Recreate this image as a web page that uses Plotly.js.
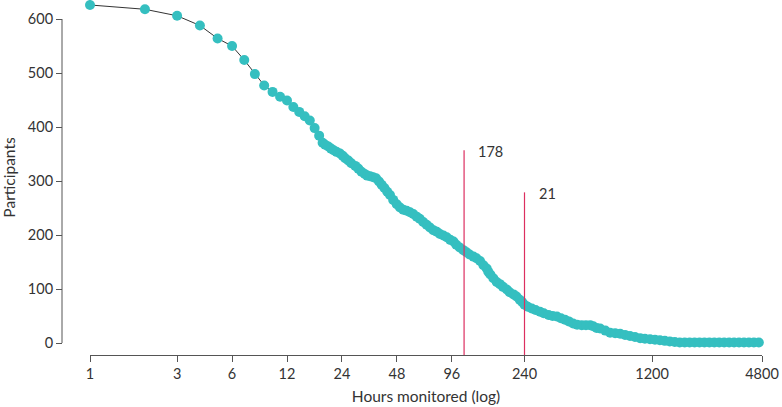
<!DOCTYPE html>
<html>
<head>
<meta charset="utf-8">
<script src="https://cdn.plot.ly/plotly-3.0.1.min.js"></script>
<style>
  html, body { margin: 0; padding: 0; background: #ffffff; }
  #chart { width: 782px; height: 407px; }
</style>
</head>
<body>
<div id="chart"></div>
<script>
// ---- Data ----
const hoursMonitored = [
  1, 2, 3, 4, 5, 6, 7, 8, 9, 10, 11, 12, 13, 14, 15, 16, 17, 18,
  18.8, 19.4, 20.2, 20.9, 21.6, 22.4, 23.4, 24.2, 25, 26, 27, 28.4, 29.5, 30.7,
  32, 33, 34.2, 35.6, 36.9, 38.3, 39.6, 41, 42.5, 44, 45.8, 47.9, 49.9, 52,
  54.3, 56.6, 59, 61.6, 64, 66.9, 69.8, 72.8, 76, 79.4, 82.6, 86.3, 90, 94,
  98, 101.5, 106, 111, 115.5, 120, 126, 131, 137, 143, 149, 152, 156, 162,
  169, 176, 183, 192, 199, 209, 217, 226, 233, 240, 250, 263, 276, 292,
  306, 325, 342, 361, 380, 400, 420, 443, 466, 494, 521, 550, 571, 596,
  623, 665, 707, 753, 802, 853, 908, 967, 1032, 1096, 1169, 1245, 1324, 1409,
  1500, 1597, 1700, 1810, 1926, 2050, 2182, 2322, 2472, 2631, 2800, 2980,
  3172, 3376, 3593, 3825, 4071, 4333, 4612, 4909, 5300
];
const participants = [
  626, 618, 606, 588, 564, 550, 524, 498, 477, 465, 456, 449, 437, 428, 420, 412, 398, 384,
  371, 367, 364, 360, 357, 354, 351, 347, 342, 338, 333, 328, 323, 317,
  313, 310, 309, 307, 305, 299, 293, 287, 280, 274, 265, 257, 251, 247,
  245, 242, 239, 234, 230, 224, 219, 214, 209, 206, 202, 199, 196, 191,
  188, 182, 177, 172, 168, 164, 160, 157, 152, 144, 138, 132, 127, 120,
  113, 109, 104, 99, 94, 90, 86, 80, 76, 71, 67, 64, 61, 58,
  55, 52, 50, 49, 46, 43, 40, 36, 34, 33, 33, 33, 31, 28,
  27, 23, 19, 18, 17, 15, 13, 11, 9, 8, 7, 6, 5, 4,
  3, 2, 1, 1, 1, 1, 1, 1, 1, 1, 1, 1,
  1, 1, 1, 1, 1, 1, 1, 1, 1
];

// Vertical marker lines (hours, height) and their labels
const markerHours = [112, 240];
const markerHeights = [357, 279];
const markerLabels = ['178', '21'];

// Axis ticks
const xTickVals = [1, 3, 6, 12, 24, 48, 96, 240, 1200, 4800];
const xTickText = ['1', '3', '6', '12', '24', '48', '96', '240', '1200', '4800'];
const yTickVals = [0, 100, 200, 300, 400, 500, 600];

// ---- Styling ----
const FONT = 'Lato, "Noto Sans", "DejaVu Sans", sans-serif';
const TEAL = '#35bfc0';
const RED = '#dc2f60';
const AXIS = '#555555';
const TEXT = '#333333';
const Y_MIN = -22.2, Y_MAX = 635.2;

const traces = [{
  type: 'scatter',
  mode: 'lines+markers',
  x: hoursMonitored,
  y: participants,
  line: { color: '#333333', width: 1 },
  marker: { color: TEAL, size: 10, line: { width: 0 } },
  cliponaxis: false,
  hoverinfo: 'x+y',
  showlegend: false
}];

const shapes = [{
  type: 'line', xref: 'paper', yref: 'y',
  x0: 0, x1: 0, y0: 0, y1: 600,
  line: { color: AXIS, width: 1 }
}];
const annotations = [];
markerHours.forEach((h, i) => {
  shapes.push({
    type: 'line', xref: 'x', yref: 'y',
    x0: h, x1: h, y0: Y_MIN, y1: markerHeights[i],
    line: { color: RED, width: 1.2 }
  });
  annotations.push({
    xref: 'x', yref: 'y',
    x: Math.log10(h), y: markerHeights[i],
    text: markerLabels[i], showarrow: false,
    xanchor: 'left', yanchor: 'middle', xshift: 12, yshift: -1,
    font: { family: FONT, size: 14.5, color: TEXT }
  });
});

const layout = {
  width: 782, height: 407,
  margin: { l: 62, r: 20, t: 0, b: 52, pad: 0 },
  paper_bgcolor: '#ffffff', plot_bgcolor: '#ffffff',
  font: { family: FONT, size: 14, color: TEXT },
  showlegend: false,
  xaxis: {
    type: 'log',
    domain: [0.04, 1],
    range: [0, Math.log10(4800)],
    tickvals: xTickVals, ticktext: xTickText,
    ticks: 'outside', ticklen: 6, tickwidth: 1, tickcolor: AXIS,
    showline: true, linecolor: AXIS, linewidth: 1,
    showgrid: false, zeroline: false,
    tickfont: { family: FONT, size: 14.5, color: TEXT },
    title: { text: 'Hours monitored (log)', font: { family: FONT, size: 15.5, color: TEXT }, standoff: 9 },
    automargin: false
  },
  yaxis: {
    anchor: 'free', position: 0,
    range: [Y_MIN, Y_MAX],
    tickvals: yTickVals,
    ticks: 'outside', ticklen: 6, tickwidth: 1, tickcolor: AXIS,
    showline: false, showgrid: false, zeroline: false,
    tickfont: { family: FONT, size: 14.5, color: TEXT },
    title: { text: 'Participants', font: { family: FONT, size: 15.5, color: TEXT }, standoff: 7 },
    automargin: false
  },
  shapes: shapes,
  annotations: annotations
};

Plotly.newPlot('chart', traces, layout, { displayModeBar: false, staticPlot: true });
</script>
</body>
</html>
